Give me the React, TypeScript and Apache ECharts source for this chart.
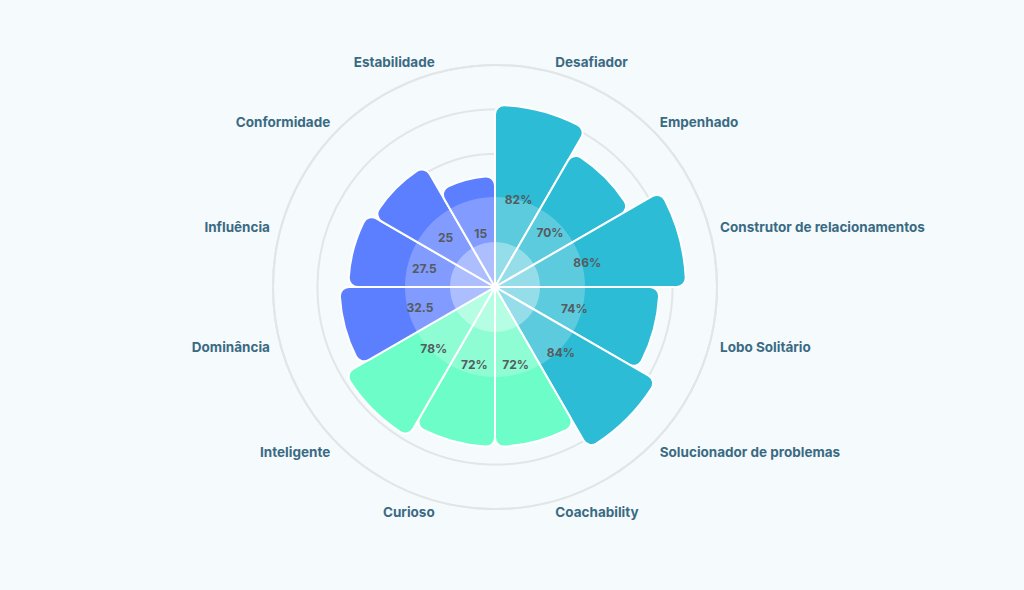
import React, { useEffect, useRef } from "react";
import * as echarts from "echarts";

const categories = [
  "Desafiador",
  "Empenhado",
  "Construtor de relacionamentos",
  "Lobo Solitário",
  "Solucionador de problemas",
  "Coachability",
  "Curioso",
  "Inteligente",
  "Dominância",
  "Influência",
  "Conformidade",
  "Estabilidade",
];
const barValues = [82, 70, 86, 74, 84, 72, 72, 78, 70, 66, 63, 50];
const valueLabels = ["82%", "70%", "86%", "74%", "84%", "72%", "72%", "78%", "32.5", "27.5", "25", "15"];
const groups = ["teal", "teal", "teal", "teal", "teal", "green", "green", "green", "blue", "blue", "blue", "blue"];
const groupColors: Record<string, string> = { teal: "#2cbcd5", green: "#6cfdc8", blue: "#5b7ffe" };
const AXIS_MAX = 100;

const CENTER = [495, 287];
const RADIUS = 222;

export default function App() {
  const ref = useRef<HTMLDivElement>(null);
  useEffect(() => {
    if (!ref.current) return;
    const chart = echarts.init(ref.current, null, { renderer: "svg" });
    const gridColor = "#e2e6e9";
    const half = categories.length / 2;
    chart.setOption({
      animation: false,
      backgroundColor: "#f5fafd",
      polar: { center: CENTER, radius: RADIUS },
      angleAxis: {
        type: "category",
        data: categories,
        startAngle: 90,
        clockwise: true,
        boundaryGap: true,
        axisLine: { show: true, lineStyle: { color: gridColor, width: 2 } },
        axisTick: { show: false },
        splitLine: { show: false },
        axisLabel: { show: false },
      },
      radiusAxis: {
        type: "value",
        min: 0,
        max: AXIS_MAX,
        interval: 20,
        axisLine: { show: false },
        axisTick: { show: false },
        axisLabel: { show: false },
        splitLine: { show: true, lineStyle: { color: gridColor, width: 2 } },
      },
      series: [
        {
          type: "bar",
          coordinateSystem: "polar",
          barCategoryGap: "0%",
          barGap: "-100%",
          z: 2,
          data: barValues.map((v, i) => ({
            value: v,
            itemStyle: { color: groupColors[groups[i]] },
          })),
          itemStyle: { borderColor: "#ffffff", borderWidth: 2, borderRadius: 9 },
          emphasis: { disabled: true },
          label: { show: false },
        },
        {
          type: "pie",
          center: CENTER,
          radius: [0, 90],
          silent: true,
          z: 3,
          label: { show: false },
          labelLine: { show: false },
          emphasis: { disabled: true },
          itemStyle: { color: "rgba(255,255,255,0.23)", borderWidth: 0 },
          data: [{ value: 1 }],
        },
        {
          type: "pie",
          center: CENTER,
          radius: [0, 45],
          silent: true,
          z: 3,
          label: { show: false },
          labelLine: { show: false },
          emphasis: { disabled: true },
          itemStyle: { color: "rgba(255,255,255,0.35)", borderWidth: 0 },
          data: [{ value: 1 }],
        },
        {
          type: "bar",
          coordinateSystem: "polar",
          barCategoryGap: "0%",
          barGap: "-100%",
          z: 4,
          silent: true,
          data: barValues,
          itemStyle: { color: "rgba(0,0,0,0)" },
          emphasis: { disabled: true },
          label: {
            show: true,
            position: "middle",
            rotate: 0,
            formatter: (p: any) => valueLabels[p.dataIndex],
            color: "#555b60",
            fontSize: 12,
            fontWeight: "bold",
            fontFamily: "Inter",
          },
        },
        {
          type: "bar",
          coordinateSystem: "polar",
          barCategoryGap: "0%",
          barGap: "-100%",
          z: 4,
          silent: true,
          data: categories.map((c, i) => ({
            value: AXIS_MAX,
            label: { align: i < half ? "left" : "right" },
          })),
          itemStyle: { color: "rgba(0,0,0,0)" },
          emphasis: { disabled: true },
          label: {
            show: true,
            position: "end",
            distance: 11,
            rotate: 0,
            verticalAlign: "middle",
            formatter: (p: any) => categories[p.dataIndex],
            color: "#3a6a83",
            fontSize: 13.5,
            fontWeight: "bold",
            fontFamily: "Inter",
          },
        },
      ],
    });
    return () => chart.dispose();
  }, []);
  return (
    <div
      ref={ref}
      style={{ position: "absolute", left: 0, top: 0, width: 1024, height: 590 }}
    />
  );
}
